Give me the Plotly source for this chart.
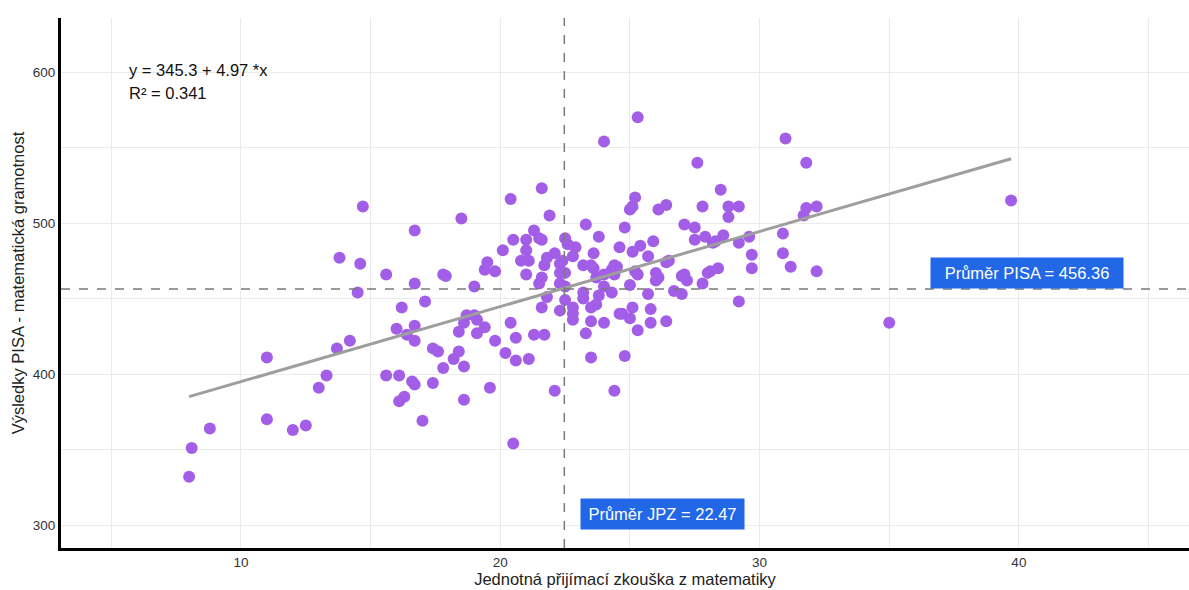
import plotly.graph_objects as go

# Jednotná přijímací zkouška (JPZ) vs. PISA matematika, po školách
jpz = [
    8.0, 8.1, 8.8, 11.0, 12.0, 12.5, 13.0, 13.3, 11.0, 13.7, 14.2, 15.6, 16.1, 16.6, 16.7,
    16.3, 16.1, 17.0, 17.4, 17.8, 14.7, 13.8, 14.6, 15.6, 14.5, 16.7, 16.7, 16.2, 16.0, 16.4,
    16.7, 16.7, 21.6, 20.4, 21.9, 18.5, 21.3, 22.5, 20.5, 21.0, 21.5, 21.6, 21.0, 20.1, 22.9,
    22.6, 22.1, 21.8, 22.8, 23.3, 23.6, 23.8, 20.8, 21.1, 22.4, 21.7, 19.5, 19.4, 19.8, 22.3,
    23.2, 23.5, 22.3, 22.5, 21.0, 21.6, 21.5, 22.3, 17.8, 17.9, 19.0, 23.2, 23.7, 22.5, 21.8,
    23.2, 17.1, 25.3, 24.0, 27.6, 28.5, 25.2, 25.0, 25.1, 26.1, 26.4, 27.8, 28.8, 29.2, 28.8,
    24.8, 27.1, 27.5, 27.5, 27.9, 28.6, 25.9, 29.2, 29.6, 28.2, 28.3, 24.6, 25.4, 25.1, 25.7,
    29.7, 29.7, 26.5, 26.4, 23.6, 24.4, 24.5, 24.3, 24.4, 24.0, 25.2, 25.3, 26.0, 26.1, 26.0,
    27.0, 27.1, 27.2, 28.0, 28.1, 28.4, 27.8, 25.0, 24.0, 23.8, 24.3, 25.7, 26.7, 27.0, 29.2,
    22.5, 18.7, 19.0, 19.1, 18.6, 18.4, 19.1, 19.4, 20.4, 20.6, 19.8, 20.2, 20.6, 21.1, 21.3,
    21.7, 21.6, 22.3, 22.8, 22.8, 22.8, 23.5, 23.5, 23.3, 23.5, 17.4, 17.6, 18.4, 18.2, 18.6,
    18.6, 19.6, 22.1, 20.5, 23.7, 24.0, 25.1, 25.8, 24.6, 24.7, 25.0, 25.8, 26.4, 25.3, 24.8,
    24.4, 31.0, 31.8, 31.8, 31.7, 32.2, 39.7, 30.9, 30.9, 31.2, 32.2, 35.0,
]
pisa = [
    332, 351, 364, 370, 363, 366, 391, 399, 411, 417, 422, 399, 399, 395, 393,
    385, 382, 369, 394, 404, 511, 477, 473, 466, 454, 495, 460, 444, 430, 426,
    432, 422, 523, 516, 505, 503, 495, 490, 489, 489, 490, 489, 482, 482, 484,
    486, 480, 477, 478, 499, 480, 491, 475, 475, 475, 472, 474, 469, 468, 473,
    472, 472, 467, 467, 466, 464, 460, 460, 466, 465, 458, 454, 464, 449, 451,
    450, 448, 570, 554, 540, 522, 517, 509, 511, 509, 512, 511, 511, 511, 504,
    497, 499, 497, 489, 491, 492, 488, 487, 491, 487, 488, 484, 485, 481, 478,
    479, 470, 475, 474, 470, 472, 471, 469, 466, 466, 468, 466, 467, 464, 462,
    465, 466, 462, 467, 468, 470, 460, 459, 458, 452, 454, 453, 455, 453, 448,
    458, 439, 439, 436, 434, 428, 427, 431, 434, 424, 422, 414, 409, 410, 426,
    426, 444, 442, 444, 440, 436, 444, 435, 427, 411, 417, 415, 415, 410, 405,
    383, 391, 389, 354, 446, 434, 444, 443, 440, 440, 437, 434, 435, 429, 412,
    389, 556, 540, 510, 505, 511, 515, 493, 480, 471, 468, 434,
]

# Regresní přímka a průměry
intercept = 345.3
slope = 4.97
r2 = 0.341
mean_pisa = 456.36
mean_jpz = 22.47

x_min, x_max = min(jpz), max(jpz)
fit_x = [x_min, x_max]
fit_y = [intercept + slope * v for v in fit_x]

FONT = "Liberation Sans, Arial, sans-serif"
POINT = "#a35ee8"
BLUE = "#2167e6"
TXT = 16.5

fig = go.Figure()

fig.add_trace(go.Scatter(
    x=jpz, y=pisa, mode="markers",
    marker=dict(color=POINT, size=12, line=dict(width=0)),
    showlegend=False, hoverinfo="x+y",
))

fig.add_trace(go.Scatter(
    x=fit_x, y=fit_y, mode="lines",
    line=dict(color="#9e9e9e", width=3),
    showlegend=False, hoverinfo="skip",
))

fig.add_hline(y=mean_pisa, line=dict(color="#7a7a7a", width=1.5, dash="dash"))
fig.add_vline(x=mean_jpz, line=dict(color="#7a7a7a", width=1.5, dash="dash"))

fig.add_annotation(
    x=5.62, y=601.3, xref="x", yref="y", xanchor="left", yanchor="middle",
    text=f"y = {intercept} + {slope} *x", showarrow=False,
    font=dict(family=FONT, size=TXT, color="#111111"),
)
fig.add_annotation(
    x=5.62, y=586.2, xref="x", yref="y", xanchor="left", yanchor="middle",
    text=f"R² = {r2}", showarrow=False,
    font=dict(family=FONT, size=TXT, color="#111111"),
)
fig.add_annotation(
    x=40.31, y=mean_pisa, xref="x", yref="y", xanchor="center", yanchor="bottom",
    text=f"Průměr PISA = {mean_pisa}", showarrow=False,
    font=dict(family=FONT, size=TXT, color="white"),
    bgcolor=BLUE, borderpad=6, width=180, align="center",
)
fig.add_annotation(
    x=26.26, y=307.6, xref="x", yref="y", xanchor="center", yanchor="middle",
    text=f"Průměr JPZ = {mean_jpz}", showarrow=False,
    font=dict(family=FONT, size=TXT, color="white"),
    bgcolor=BLUE, borderpad=6, width=151, align="center",
)

fig.update_layout(
    width=1189, height=590,
    margin=dict(l=61, r=0, t=18, b=42),
    paper_bgcolor="white", plot_bgcolor="white",
    font=dict(family=FONT, size=13, color="#333333"),
)

fig.update_xaxes(
    range=[3.06, 46.56], tickvals=[10, 20, 30, 40],
    showgrid=True, gridcolor="#ebebeb", gridwidth=1,
    minor=dict(tickvals=[5, 15, 25, 35, 45], showgrid=True, gridcolor="#ebebeb", gridwidth=1),
    showline=True, linecolor="black", linewidth=3,
    zeroline=False, ticks="",
    tickfont=dict(family=FONT, size=13.5, color="#333333"),
    title=dict(text="Jednotná přijímací zkouška z matematiky",
               font=dict(family=FONT, size=TXT, color="#222222"), standoff=4),
)
fig.update_yaxes(
    range=[284.8, 635.8], tickvals=[300, 400, 500, 600],
    showgrid=True, gridcolor="#ebebeb", gridwidth=1,
    minor=dict(tickvals=[350, 450, 550], showgrid=True, gridcolor="#ebebeb", gridwidth=1),
    showline=True, linecolor="black", linewidth=3,
    zeroline=False, ticks="",
    tickfont=dict(family=FONT, size=13.5, color="#333333"),
    title=dict(text="Výsledky PISA - matematická gramotnost",
               font=dict(family=FONT, size=TXT, color="#222222"), standoff=4),
)

fig.write_html("out.html")
